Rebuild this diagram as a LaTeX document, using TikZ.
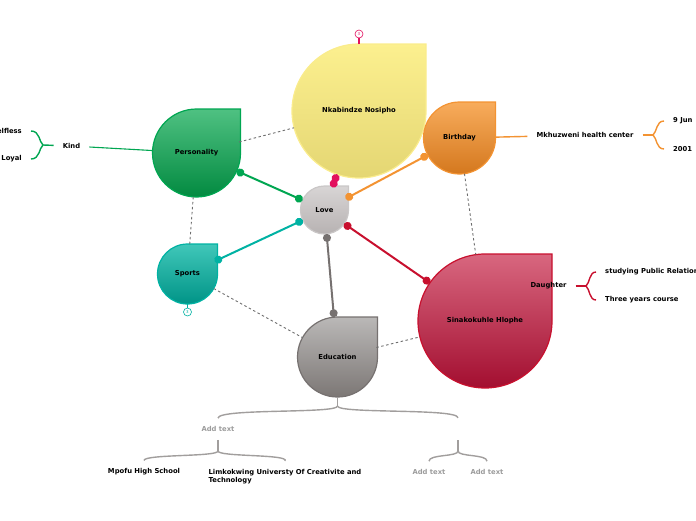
\documentclass[tikz,border=0pt]{standalone}
\usepackage{fontspec}
\setmainfont{DejaVu Sans}
\usetikzlibrary{arrows.meta,backgrounds}

\definecolor{nkabtop}{HTML}{FCF08F}
\definecolor{nkabbot}{HTML}{E4D673}
\definecolor{nkabedge}{HTML}{FAEC8C}
\definecolor{nkabln}{HTML}{E2105E}
\definecolor{bdaytop}{HTML}{F8AC5C}
\definecolor{bdaybot}{HTML}{D4781E}
\definecolor{bdayln}{HTML}{F39332}
\definecolor{perstop}{HTML}{4FC182}
\definecolor{persbot}{HTML}{028A40}
\definecolor{persln}{HTML}{00A651}
\definecolor{lovetop}{HTML}{D8D5D5}
\definecolor{lovebot}{HTML}{B7B2B2}
\definecolor{loveedge}{HTML}{CAC7C7}
\definecolor{sportstop}{HTML}{40C7B9}
\definecolor{sportsbot}{HTML}{009487}
\definecolor{sportsln}{HTML}{00B2A3}
\definecolor{edutop}{HTML}{BAB8B7}
\definecolor{edubot}{HTML}{7C7775}
\definecolor{eduln}{HTML}{767170}
\definecolor{sinatop}{HTML}{D8677F}
\definecolor{sinabot}{HTML}{A30E30}
\definecolor{sinaln}{HTML}{C8102E}
\definecolor{relgrey}{HTML}{6E6E6E}
\definecolor{twiggrey}{HTML}{A19E9D}
\definecolor{addgrey}{HTML}{9C9C9C}

% teardrop behind a topic node: three round quarters, square top right
\newcommand{\dropshape}[3]{%
  \path[#2] (#1.north) -- (#1.north -| #1.east) -- (#1.east)
    arc[start angle=0,delta angle=-270,radius=#3] -- cycle;}

\begin{document}
\begin{tikzpicture}[x=1pt,y=-1pt,>={Circle[length=8pt]},
  font=\fontsize{6.8}{8}\selectfont\bfseries,
  topic/.style={circle,minimum size=#1,inner sep=0pt,outer sep=0pt},
  drop/.style n args={3}{top color=#1,bottom color=#2,draw=#3,line width=1.2pt},
  link/.style={draw=#1,line width=2pt,<->},
  rel/.style={draw=relgrey,line width=0.9pt,dash pattern=on 2.5pt off 2.5pt},
  twig/.style={draw=#1,line width=1.4pt},
  sub/.style={inner xsep=9pt,inner ysep=8pt},
  faint/.style={sub,text=addgrey},
  badge/.style={circle,draw=#1,fill=white,line width=0.6pt,inner sep=0pt,
    minimum size=8pt,text=#1,font=\fontsize{4}{4}\selectfont}]
\useasboundingbox (0,-2) rectangle (696,518);

\node[topic=134pt] (nkab) at (359,109) {Nkabindze Nosipho};
\node[topic=72pt] (bday) at (459.5,136) {Birthday};
\node[topic=88pt] (pers) at (196.5,151) {Personality};
\node[topic=48pt] (love) at (324.5,208) {Love};
\node[topic=60pt] (sports) at (187.5,272) {Sports};
\node[topic=80pt] (edu) at (337.5,355) {Education};
\node[topic=134pt] (sina) at (485,319) {Sinakokuhle Hlophe};

\begin{scope}[on background layer]
\dropshape{nkab}{drop={nkabtop}{nkabbot}{nkabedge}}{67pt}
\dropshape{bday}{drop={bdaytop}{bdaybot}{bdayln}}{36pt}
\dropshape{pers}{drop={perstop}{persbot}{persln}}{44pt}
\dropshape{love}{drop={lovetop}{lovebot}{loveedge}}{24pt}
\dropshape{sports}{drop={sportstop}{sportsbot}{sportsln}}{30pt}
\dropshape{edu}{drop={edutop}{edubot}{eduln}}{40pt}
\dropshape{sina}{drop={sinatop}{sinabot}{sinaln}}{67pt}
\end{scope}

\foreach \a/\b in {pers/nkab,pers/sports,sports/edu,edu/sina,bday/sina}
  \draw[rel] (\a) -- (\b);
\foreach \t/\c in {nkab/nkabln,bday/bdayln,pers/persln,sports/sportsln,edu/eduln,sina/sinaln}
  \draw[link=\c] (love) -- (\t);

\node[badge=nkabln] (nkabn) at (359,32) {3};
\draw[twig=nkabln] (nkab.north) -- (nkabn);
\node[badge=sportsln] (sportsn) at (187.5,310) {3};
\draw[twig=sportsln,line width=1pt] (sports.south) -- (sportsn);

% personality
\node[sub] (kind) at (71.5,144) {Kind};
\node[sub,anchor=east] (selfless) at (31,129) {Selfless};
\node[sub,anchor=east] (loyal) at (31,157) {Loyal};
\coordinate (kj) at (43,143);
\draw[twig=persln,line width=1.1pt] (pers) -- (kind);
\draw[twig=persln] (kind) -- (kj);
\draw[twig=persln] (kj) .. controls (39,140) and (40,129) .. (selfless.east);
\draw[twig=persln] (kj) .. controls (39,146) and (40,157) .. (loyal.east);

% birthday
\node[sub] (mkh) at (585,133) {Mkhuzweni health center};
\node[sub,anchor=west] (jun) at (664,119) {9 Jun};
\node[sub,anchor=west] (yr) at (664,147) {2001};
\coordinate (bj) at (653,133);
\draw[twig=bdayln] (bday) -- (mkh);
\draw[twig=bdayln] (mkh) -- (bj);
\draw[twig=bdayln] (bj) .. controls (657,130) and (656,119) .. (jun.west);
\draw[twig=bdayln] (bj) .. controls (657,136) and (656,147) .. (yr.west);

% sinakokuhle
\node[sub] (dau) at (548.5,284) {Daughter};
\node[sub,anchor=west] (pr) at (596,270) {studying Public Relations};
\node[sub,anchor=west] (course) at (596,298) {Three years course};
\coordinate (dj) at (586,284);
\draw[twig=sinaln] (dau) -- (dj);
\draw[twig=sinaln] (dj) .. controls (590,281) and (589,270) .. (pr.west);
\draw[twig=sinaln] (dj) .. controls (590,287) and (589,298) .. (course.west);

% education
\coordinate (ej) at (337.5,404);
\node[faint] (addl) at (218,427) {Add text};
\node[minimum height=22pt] (addr) at (458,427) {};
\draw[twig=twiggrey] (edu) -- (ej);
\draw[twig=twiggrey] (ej) .. controls (337.5,412) and (218,406) .. (addl.north);
\draw[twig=twiggrey] (ej) .. controls (337.5,412) and (458,406) .. (addr.north);

\coordinate (lj) at (218,449);
\node[sub] (mpofu) at (144,470) {Mpofu High School};
\node[sub,align=left,anchor=north] (limk) at (285,459)
  {Limkokwing Universty Of Creativite and\\Technology};
\draw[twig=twiggrey] (addl) -- (lj);
\draw[twig=twiggrey] (lj) .. controls (218,455) and (144,452) .. (mpofu.north);
\draw[twig=twiggrey] (lj) .. controls (218,455) and (290,452) .. (limk.north);

\coordinate (rj) at (458,449);
\node[faint] (add1) at (429,470) {Add text};
\node[faint] (add2) at (487,470) {Add text};
\draw[twig=twiggrey] (addr) -- (rj);
\draw[twig=twiggrey] (rj) .. controls (458,455) and (429,452) .. (add1.north);
\draw[twig=twiggrey] (rj) .. controls (458,455) and (487,452) .. (add2.north);
\end{tikzpicture}
\end{document}
